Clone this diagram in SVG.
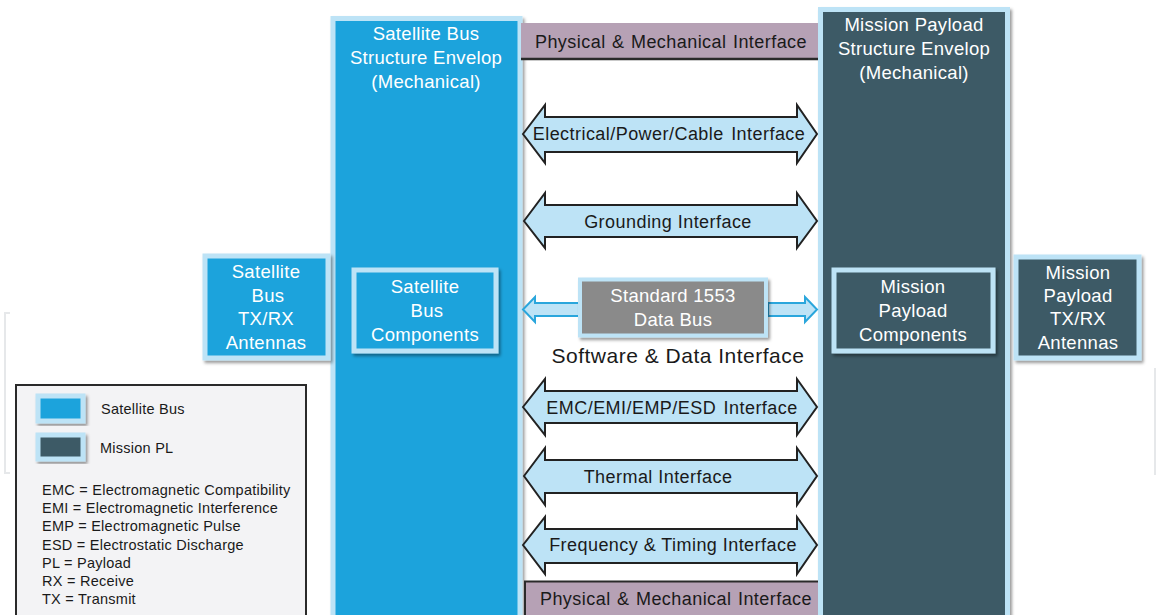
<svg xmlns="http://www.w3.org/2000/svg" width="1159" height="615" viewBox="0 0 1159 615">
  <defs>
    <filter id="shadow" x="-10%" y="-10%" width="130%" height="130%">
      <feDropShadow dx="2" dy="2.5" stdDeviation="1.5" flood-color="#000" flood-opacity="0.4"/>
    </filter>
    <style>
      text { font-family: "Liberation Sans", Arial, sans-serif; }
      .bus { fill: #1fa3dc; stroke: #bde3f6; stroke-width: 5; }
      .pl { fill: #3d5a66; stroke: #bde3f6; stroke-width: 5; }
      .wt { fill: #ffffff; font-size: 18.5px; text-anchor: middle; letter-spacing: 0.3px; }
      .bk { fill: #1a1a1a; font-size: 18px; text-anchor: middle; letter-spacing: 0.45px; }
      .iface { fill: #bde3f6; stroke: #222222; stroke-width: 2; stroke-linejoin: miter; }
      .bar { fill: #b6a1b5; }
      .leg { fill: #1a1a1a; font-size: 14.5px; letter-spacing: 0.25px; }
      .faint { fill: none; stroke: #e6e8ea; stroke-width: 2; }
    </style>
  </defs>

  <rect width="1159" height="615" fill="#ffffff"/>

  <!-- faint page brackets -->
  <path class="faint" d="M10,313 L5,313 L5,473 L10,473"/>
  <path class="faint" d="M1155,368 L1155,475"/>

  <!-- structure envelopes -->
  <g id="satellite-bus-envelope">
    <rect class="bus" x="333" y="18.5" width="187" height="600" filter="url(#shadow)"/>
    <text class="wt" x="426" y="40">Satellite  Bus</text>
    <text class="wt" x="426" y="64">Structure Envelop</text>
    <text class="wt" x="426" y="88">(Mechanical)</text>
  </g>

  <g id="mission-payload-envelope">
    <rect class="pl" x="820.5" y="9.5" width="187" height="610" filter="url(#shadow)"/>
    <text class="wt" x="914" y="31">Mission  Payload</text>
    <text class="wt" x="914" y="55">Structure Envelop</text>
    <text class="wt" x="914" y="79">(Mechanical)</text>
  </g>

  <!-- physical and mechanical interface bars -->
  <g id="physical-top">
    <rect class="bar" x="521" y="23" width="297" height="36"/>
    <line x1="521" y1="59" x2="818" y2="59" stroke="#2a2a2a" stroke-width="2.5"/>
    <text class="bk" x="671" y="48" word-spacing="1">Physical &amp; Mechanical Interface</text>
  </g>

  <g id="physical-bottom">
    <rect class="bar" x="524" y="581" width="294" height="36"/>
    <path d="M525,617 L525,581.5 L818,581.5" fill="none" stroke="#2a2a2a" stroke-width="2"/>
    <text class="bk" x="676" y="605" word-spacing="1">Physical &amp; Mechanical Interface</text>
  </g>

  <!-- interface arrows -->
  <g id="connectors">
    <path class="iface" d="M523,134 L545,105 L545,117 L797,117 L797,105 L817,134 L797,163 L797,152 L545,152 L545,163 Z"/>
    <path class="iface" d="M524,221 L545,193 L545,205 L797,205 L797,193 L817,221 L797,248 L797,237 L545,237 L545,248 Z"/>
    <path class="iface" d="M523,407 L545,379 L545,391 L797,391 L797,379 L817,407 L797,435 L797,423 L545,423 L545,435 Z"/>
    <path class="iface" d="M524,476 L545,448 L545,460 L797,460 L797,448 L817,476 L797,505 L797,493 L545,493 L545,505 Z"/>
    <path class="iface" d="M523,545 L545,517 L545,529 L797,529 L797,517 L817,545 L797,574 L797,563 L545,563 L545,574 Z"/>
    <!-- data bus arrows -->
    <path d="M580,303 L535,303 L535,297 L523,309.5 L535,322 L535,316 L580,316 Z" fill="#bde3f6" stroke="#2aa6dc" stroke-width="2"/>
    <path d="M768,303 L805,303 L805,297 L817,309.5 L805,322 L805,316 L768,316 Z" fill="#bde3f6" stroke="#2aa6dc" stroke-width="2"/>
  </g>

  <g id="interface-labels">
    <text class="bk" x="669" y="140" word-spacing="2">Electrical/Power/Cable Interface</text>
    <text class="bk" x="668" y="228">Grounding Interface</text>
    <text class="bk" x="672" y="414" word-spacing="2">EMC/EMI/EMP/ESD Interface</text>
    <text class="bk" x="658" y="483">Thermal Interface</text>
    <text class="bk" x="673" y="551">Frequency &amp; Timing Interface</text>
    <text x="678" y="363" fill="#1a1a1a" font-size="21px" letter-spacing="0.5" text-anchor="middle">Software &amp; Data Interface</text>
  </g>

  <!-- data bus -->
  <g id="data-bus">
    <rect x="580" y="279.5" width="186" height="56" fill="#8a8a8a" stroke="#bde3f6" stroke-width="4" filter="url(#shadow)"/>
    <text class="wt" x="673" y="302">Standard 1553</text>
    <text class="wt" x="673" y="326">Data Bus</text>
  </g>

  <!-- component boxes -->
  <g id="satellite-bus-components">
    <rect class="bus" x="354" y="270" width="142" height="81" stroke-width="4" filter="url(#shadow)"/>
    <text class="wt" x="425" y="293">Satellite</text>
    <text class="wt" x="427" y="317">Bus</text>
    <text class="wt" x="425" y="341">Components</text>
  </g>

  <g id="satellite-bus-antennas">
    <rect class="bus" x="205" y="256" width="123" height="102" stroke-width="4" filter="url(#shadow)"/>
    <text class="wt" x="266" y="278">Satellite</text>
    <text class="wt" x="268" y="302">Bus</text>
    <text class="wt" x="266" y="325">TX/RX</text>
    <text class="wt" x="266" y="349">Antennas</text>
  </g>

  <g id="mission-payload-components">
    <rect class="pl" x="834" y="270" width="159" height="81" stroke-width="4" filter="url(#shadow)"/>
    <text class="wt" x="913" y="293">Mission</text>
    <text class="wt" x="913" y="317">Payload</text>
    <text class="wt" x="913" y="341">Components</text>
  </g>

  <g id="mission-payload-antennas">
    <rect class="pl" x="1016" y="257" width="123" height="101" stroke-width="4" filter="url(#shadow)"/>
    <text class="wt" x="1078" y="279">Mission</text>
    <text class="wt" x="1078" y="302">Payload</text>
    <text class="wt" x="1078" y="325">TX/RX</text>
    <text class="wt" x="1078" y="349">Antennas</text>
  </g>

  <!-- legend -->
  <g id="legend">
    <rect x="16" y="385" width="290" height="232" fill="#f3f3f5" stroke="#2a2a2a" stroke-width="2"/>
    <rect class="bus" x="38" y="396" width="45" height="25" stroke-width="4" filter="url(#shadow)"/>
    <rect class="pl" x="38" y="435" width="45" height="24" stroke-width="4" filter="url(#shadow)"/>
    <text class="leg" x="101" y="414">Satellite Bus</text>
    <text class="leg" x="100" y="453">Mission PL</text>
    <text class="leg" x="42" y="495">EMC = Electromagnetic Compatibility</text>
    <text class="leg" x="42" y="513">EMI = Electromagnetic  Interference</text>
    <text class="leg" x="42" y="531">EMP = Electromagnetic Pulse</text>
    <text class="leg" x="42" y="550">ESD = Electrostatic Discharge</text>
    <text class="leg" x="42" y="568">PL = Payload</text>
    <text class="leg" x="42" y="586">RX = Receive</text>
    <text class="leg" x="42" y="604">TX = Transmit</text>
  </g>
</svg>
